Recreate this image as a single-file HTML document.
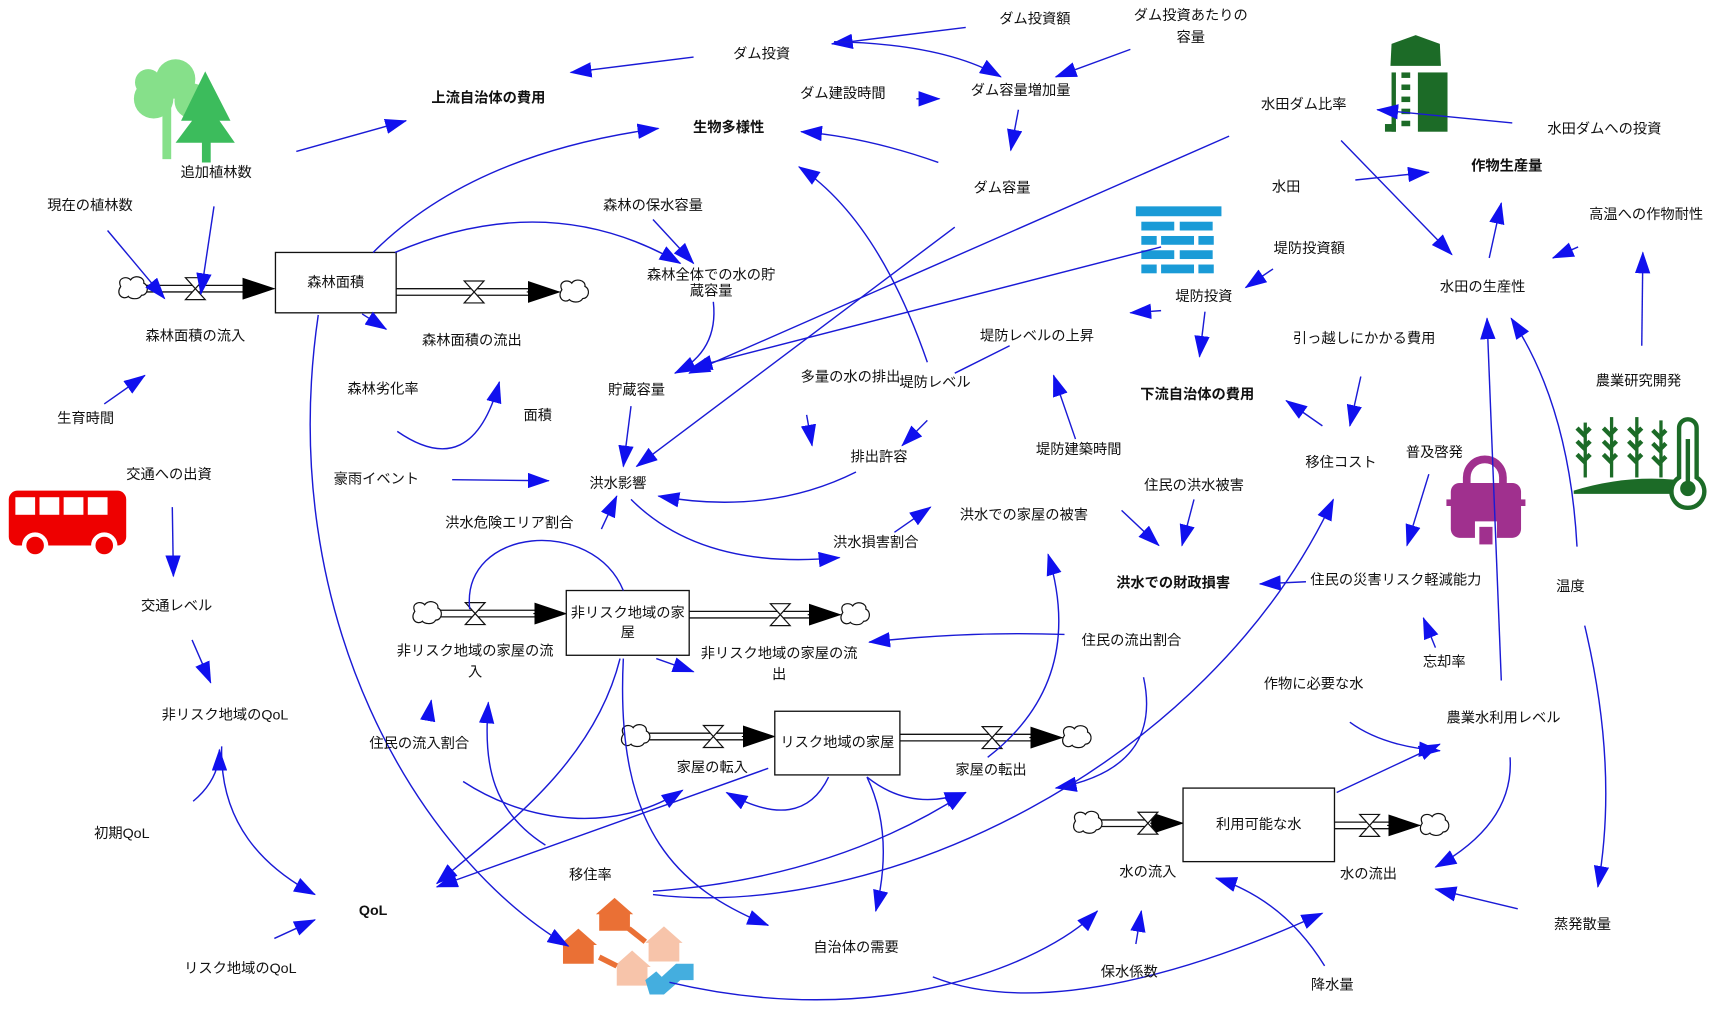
<!DOCTYPE html>
<html><head><meta charset="utf-8">
<style>
html,body{margin:0;padding:0;background:#fff;}
svg{display:block;}
text{font-family:"Liberation Sans","Noto Sans CJK JP",sans-serif;font-size:13px;fill:#111;text-anchor:middle;dominant-baseline:middle;}
.b{font-weight:bold;}
.l{fill:none;stroke:#1a1ad6;stroke-width:1.3;marker-end:url(#ah);}
.n{fill:none;stroke:#1a1ad6;stroke-width:1.3;}
.box{fill:#fff;stroke:#111;stroke-width:1.2;}
.pipe{fill:none;stroke:#111;stroke-width:1.2;}
</style></head><body>
<svg width="1712" height="1012" viewBox="0 0 1560 922" preserveAspectRatio="none">
<defs>
<marker id="ah" viewBox="0 0 20 14" refX="19" refY="7" markerWidth="20" markerHeight="14" markerUnits="userSpaceOnUse" orient="auto"><path d="M0,0 L20,7 L0,14 Z" fill="#1010ee"/></marker>
<marker id="fh" viewBox="0 0 30 20" refX="29" refY="10" markerWidth="30" markerHeight="20" markerUnits="userSpaceOnUse" orient="auto"><path d="M0,0 L30,10 L0,20 Z" fill="#000"/></marker>
<g id="cloud"><path d="M-10,-2 C-14,-10 -4,-12 -1,-8 C2,-13 12,-11 11,-5 C16,-3 15,6 9,6 C6,11 -2,9 -3,7 C-8,11 -15,5 -10,-2 Z" fill="#fff" stroke="#111" stroke-width="1.1"/></g>
<g id="valve"><path d="M-9,-10 L9,-10 L-9,10 L9,10 Z" fill="#fff" stroke="#111" stroke-width="1.1"/></g>
</defs>

<!-- flows -->
<g>
<path class="pipe" d="M130,260 H228 M130,266 H228"/>
<line x1="226" y1="263" x2="250" y2="263" stroke="#000" marker-end="url(#fh)"/>
<use href="#cloud" x="120" y="263"/><use href="#valve" x="178" y="263"/>
<path class="pipe" d="M361,263 H482 M361,269 H482"/><line x1="480" y1="266" x2="510" y2="266" stroke="#000" marker-end="url(#fh)"/>
<use href="#valve" x="432" y="266"/><use href="#cloud" x="522" y="266"/>

<path class="pipe" d="M398,556 H488 M398,562 H488"/><line x1="486" y1="559" x2="516" y2="559" stroke="#000" marker-end="url(#fh)"/>
<use href="#cloud" x="388" y="559"/><use href="#valve" x="433" y="559"/>
<path class="pipe" d="M628,557 H738 M628,563 H738"/><line x1="736" y1="560" x2="766" y2="560" stroke="#000" marker-end="url(#fh)"/>
<use href="#valve" x="711" y="560"/><use href="#cloud" x="778" y="560"/>

<path class="pipe" d="M588,668 H678 M588,674 H678"/><line x1="676" y1="671" x2="706" y2="671" stroke="#000" marker-end="url(#fh)"/>
<use href="#cloud" x="578" y="671"/><use href="#valve" x="650" y="671"/>
<path class="pipe" d="M820,669 H940 M820,675 H940"/><line x1="938" y1="672" x2="968" y2="672" stroke="#000" marker-end="url(#fh)"/>
<use href="#valve" x="904" y="672"/><use href="#cloud" x="980" y="672"/>

<path class="pipe" d="M1000,747 H1050 M1000,753 H1050"/><line x1="1048" y1="750" x2="1078" y2="750" stroke="#000" marker-end="url(#fh)"/>
<use href="#cloud" x="990" y="750"/><use href="#valve" x="1046" y="750"/>
<path class="pipe" d="M1216,749 H1266 M1216,755 H1266"/><line x1="1264" y1="752" x2="1294" y2="752" stroke="#000" marker-end="url(#fh)"/>
<use href="#valve" x="1248" y="752"/><use href="#cloud" x="1306" y="752"/>
</g>

<!-- stocks -->
<rect class="box" x="251" y="230" width="110" height="55"/>
<rect class="box" x="516" y="538" width="112" height="59"/>
<rect class="box" x="706" y="648" width="114" height="58"/>
<rect class="box" x="1078" y="718" width="138" height="67"/>

<!-- icons -->
<g fill="#86e08a">
<circle cx="140" cy="90" r="18"/><circle cx="160" cy="72" r="18"/><circle cx="175" cy="92" r="16"/><circle cx="135" cy="75" r="12"/>
<rect x="148" y="95" width="8" height="50"/>
</g>
<path d="M187,65 L165,110 L175,110 L160,130 L184,130 L184,148 L192,148 L192,130 L214,130 L200,110 L210,110 Z" fill="#3cbc5c"/>
<g fill="#1c6b27">
<path d="M1267,60 L1268,40 L1290,32 L1312,40 L1313,60 Z"/>
<rect x="1292" y="66" width="27" height="54"/><rect x="1268" y="66" width="4" height="54"/>
<rect x="1262" y="113" width="10" height="7"/>
<rect x="1277" y="66" width="8" height="5"/><rect x="1277" y="77" width="8" height="5"/><rect x="1277" y="88" width="8" height="5"/><rect x="1277" y="99" width="8" height="5"/><rect x="1277" y="110" width="8" height="5"/>
</g>
<g fill="#1a9bd7">
<rect x="1035" y="188" width="78" height="9"/>
<rect x="1040" y="202" width="30" height="8"/><rect x="1075" y="202" width="30" height="8"/>
<rect x="1040" y="215" width="14" height="8"/><rect x="1058" y="215" width="30" height="8"/><rect x="1092" y="215" width="14" height="8"/>
<rect x="1040" y="228" width="30" height="8"/><rect x="1075" y="228" width="30" height="8"/>
<rect x="1040" y="241" width="14" height="8"/><rect x="1058" y="241" width="30" height="8"/><rect x="1092" y="241" width="14" height="8"/>
</g>
<g>
<rect x="8" y="447" width="107" height="50" rx="8" fill="#ee0000"/>
<rect x="14" y="453" width="18" height="16" fill="#fff"/><rect x="36" y="453" width="18" height="16" fill="#fff"/><rect x="58" y="453" width="18" height="16" fill="#fff"/><rect x="80" y="453" width="18" height="16" fill="#fff"/>
<circle cx="32" cy="497" r="10" fill="#ee0000" stroke="#fff" stroke-width="4"/><circle cx="95" cy="497" r="10" fill="#ee0000" stroke="#fff" stroke-width="4"/>
</g>
<g fill="#a0308e">
<path d="M1333,435 a20,20 0 0 1 40,0 v6 h-7 v-6 a13,13 0 0 0 -26,0 v6 h-7z"/>
<rect x="1322" y="440" width="64" height="50" rx="8"/><rect x="1318" y="455" width="72" height="6"/>
<rect x="1344" y="475" width="20" height="20" fill="#fff"/><rect x="1348" y="480" width="12" height="16" fill="#a0308e"/>
</g>
<g fill="#1c6b27">
<path d="M1434,447 Q1480,433 1525,437 L1525,450 L1434,450 Z"/>
<rect x="1443" y="385" width="3" height="50"/><rect x="1467" y="380" width="3" height="55"/><rect x="1490" y="380" width="3" height="55"/><rect x="1512" y="383" width="3" height="52"/>
<path d="M1437,390 l6,6 l6,-6 M1437,402 l6,6 l6,-6 M1437,414 l6,6 l6,-6 M1461,390 l6,6 l6,-6 M1461,402 l6,6 l6,-6 M1461,414 l6,6 l6,-6 M1484,390 l6,6 l6,-6 M1484,402 l6,6 l6,-6 M1484,414 l6,6 l6,-6 M1506,392 l6,6 l6,-6 M1506,404 l6,6 l6,-6 M1506,416 l6,6 l6,-6" stroke="#1c6b27" stroke-width="4" fill="none"/>
<path d="M1530,390 a8,8 0 0 1 16,0 v45 a15,15 0 1 1 -16,0 z" fill="none" stroke="#1c6b27" stroke-width="4"/>
<circle cx="1538" cy="445" r="7"/><rect x="1536" y="400" width="4" height="40"/>
</g>
<g>
<path d="M560,818 L577,833 L574,833 L574,848 L546,848 L546,833 L543,833 Z" fill="#ea7035"/>
<path d="M527,846 L544,861 L541,861 L541,878 L513,878 L513,861 L510,861 Z" fill="#ea7035"/>
<path d="M605,844 L622,859 L619,859 L619,876 L591,876 L591,859 L588,859 Z" fill="#f7c4aa"/>
<path d="M576,866 L593,881 L590,881 L590,898 L562,898 L562,881 L559,881 Z" fill="#f7c4aa"/>
<path d="M573,846 L588,858" stroke="#ea7035" stroke-width="5"/>
<path d="M546,872 L562,880" stroke="#ea7035" stroke-width="5"/>
<path d="M588,893 L598,885 L603,890 L616,878 L632,878 L632,893 L620,893 L605,906 L592,906 Z" fill="#44aedf"/>
</g>

<!-- connectors -->
<g>
<path class="l" d="M880,25 L758,40"/>
<path class="l" d="M760,38 Q860,40 912,70"/>
<path class="l" d="M1030,45 L962,70"/>
<path class="l" d="M632,52 L520,66"/>
<path class="l" d="M835,90 L856,90"/>
<path class="l" d="M928,100 L921,137"/>
<path class="l" d="M855,148 Q790,125 730,120"/>
<path class="l" d="M270,138 L370,110"/>
<path class="l" d="M340,230 Q430,140 600,117"/>
<path class="l" d="M195,188 L183,268"/>
<path class="l" d="M98,210 L150,272"/>
<path class="l" d="M95,368 L132,342"/>
<path class="l" d="M360,230 Q500,170 620,240"/>
<path class="l" d="M595,200 L632,240"/>
<path class="l" d="M650,275 Q655,320 615,340"/>
<path class="l" d="M330,286 L352,300"/>
<path class="l" d="M362,393 Q430,440 455,348"/>
<path class="l" d="M575,370 L568,425"/>
<path class="l" d="M412,437 L500,438"/>
<path class="l" d="M1120,124 L628,340"/>
<path class="l" d="M1058,225 L630,335"/>
<path class="l" d="M870,207 L580,425"/>
<path class="l" d="M845,330 Q800,200 728,152"/>
<path class="l" d="M735,378 L740,406"/>
<path class="l" d="M845,383 L822,406"/>
<path class="n" d="M920,315 L870,340"/>
<path class="l" d="M980,400 L960,342"/>
<path class="l" d="M1058,283 L1030,285"/>
<path class="l" d="M1160,245 L1135,262"/>
<path class="l" d="M1098,284 L1093,325"/>
<path class="l" d="M780,430 Q700,470 600,452"/>
<path class="l" d="M575,455 Q640,520 765,508"/>
<path class="l" d="M548,482 L562,452"/>
<path class="l" d="M815,485 L848,462"/>
<path class="l" d="M1022,465 L1056,497"/>
<path class="l" d="M1088,455 L1077,497"/>
<path class="l" d="M1190,530 L1148,532"/>
<path class="l" d="M1205,388 L1172,365"/>
<path class="l" d="M1240,343 L1230,388"/>
<path class="l" d="M1222,128 L1323,232"/>
<path class="l" d="M1235,164 L1302,157"/>
<path class="l" d="M1378,112 L1255,100"/>
<path class="l" d="M1357,235 L1368,185"/>
<path class="l" d="M1438,225 L1415,235"/>
<path class="l" d="M1496,315 L1497,230"/>
<path class="l" d="M1368,620 L1355,290"/>
<path class="l" d="M1437,498 Q1430,370 1377,290"/>
<path class="l" d="M1302,432 L1282,497"/>
<path class="l" d="M1308,590 L1297,563"/>
<path class="l" d="M1444,570 Q1475,700 1456,808"/>
<path class="l" d="M1230,658 Q1260,680 1312,684"/>
<path class="l" d="M1218,722 L1312,678"/>
<path class="l" d="M1376,690 Q1380,750 1308,790"/>
<path class="l" d="M1383,828 L1308,810"/>
<path class="l" d="M1207,880 Q1170,820 1108,800"/>
<path class="l" d="M1035,860 L1040,830"/>
<path class="l" d="M970,578 Q880,575 792,585"/>
<path class="l" d="M1042,617 Q1060,700 962,718"/>
<path class="l" d="M900,690 Q990,620 955,505"/>
<path class="n" d="M568,538 C540,470 420,480 428,555"/>
<path class="l" d="M598,600 L632,612"/>
<path class="l" d="M290,287 C250,560 380,780 518,862"/>
<path class="l" d="M565,600 C540,700 450,760 398,805"/>
<path class="l" d="M568,600 C560,760 620,810 700,843"/>
<path class="l" d="M390,655 L393,638"/>
<path class="l" d="M497,770 C450,740 440,700 445,640"/>
<path class="l" d="M422,712 C480,750 560,760 622,720"/>
<path class="l" d="M700,700 L398,808"/>
<path class="l" d="M755,708 Q730,760 662,722"/>
<path class="l" d="M790,708 Q830,740 880,722"/>
<path class="l" d="M790,708 Q815,760 798,830"/>
<path class="l" d="M595,812 Q760,800 880,722"/>
<path class="l" d="M595,815 C800,840 1100,700 1215,455"/>
<path class="l" d="M610,895 C800,940 950,880 1000,830"/>
<path class="l" d="M850,890 C950,930 1100,880 1205,832"/>
<path class="l" d="M157,462 L158,525"/>
<path class="l" d="M175,583 L192,622"/>
<path class="l" d="M202,680 C200,750 240,790 287,815"/>
<path class="l" d="M176,730 Q200,710 200,683"/>
<path class="l" d="M250,855 L287,838"/>
</g>

<!-- labels -->
<g>
<text x="943" y="18">ダム投資額</text>
<text x="1085" y="15">ダム投資あたりの</text><text x="1085" y="35">容量</text>
<text x="694" y="50">ダム投資</text>
<text x="445" y="90" class="b">上流自治体の費用</text>
<text x="768" y="86">ダム建設時間</text>
<text x="930" y="83">ダム容量増加量</text>
<text x="664" y="117" class="b">生物多様性</text>
<text x="1188" y="96">水田ダム比率</text>
<text x="1462" y="118">水田ダムへの投資</text>
<text x="1373" y="152" class="b">作物生産量</text>
<text x="197" y="158">追加植林数</text>
<text x="913" y="172">ダム容量</text>
<text x="1172" y="171">水田</text>
<text x="82" y="188">現在の植林数</text>
<text x="595" y="188">森林の保水容量</text>
<text x="1500" y="196">高温への作物耐性</text>
<text x="1193" y="227">堤防投資額</text>
<text x="648" y="251">森林全体での水の貯</text><text x="648" y="266">蔵容量</text>
<text x="1351" y="262">水田の生産性</text>
<text x="1097" y="271">堤防投資</text>
<text x="306" y="258">森林面積</text>
<text x="178" y="307">森林面積の流入</text>
<text x="945" y="307">堤防レベルの上昇</text>
<text x="1243" y="309">引っ越しにかかる費用</text>
<text x="430" y="311">森林面積の流出</text>
<text x="775" y="344">多量の水の排出</text>
<text x="852" y="349">堤防レベル</text>
<text x="1493" y="348">農業研究開発</text>
<text x="349" y="355">森林劣化率</text>
<text x="580" y="356">貯蔵容量</text>
<text x="1091" y="360" class="b">下流自治体の費用</text>
<text x="490" y="379">面積</text>
<text x="78" y="382">生育時間</text>
<text x="983" y="410">堤防建築時間</text>
<text x="1307" y="413">普及啓発</text>
<text x="801" y="417">排出許容</text>
<text x="1222" y="422">移住コスト</text>
<text x="154" y="433">交通への出資</text>
<text x="343" y="437">豪雨イベント</text>
<text x="563" y="441">洪水影響</text>
<text x="1088" y="443">住民の洪水被害</text>
<text x="933" y="470">洪水での家屋の被害</text>
<text x="464" y="477">洪水危険エリア割合</text>
<text x="798" y="495">洪水損害割合</text>
<text x="1272" y="529">住民の災害リスク軽減能力</text>
<text x="1069" y="532" class="b">洪水での財政損害</text>
<text x="1431" y="535">温度</text>
<text x="161" y="553">交通レベル</text>
<text x="572" y="559">非リスク地域の家</text><text x="572" y="577">屋</text>
<text x="1031" y="584">住民の流出割合</text>
<text x="433" y="594">非リスク地域の家屋の流</text><text x="433" y="613">入</text>
<text x="710" y="596">非リスク地域の家屋の流</text><text x="710" y="615">出</text>
<text x="1316" y="604">忘却率</text>
<text x="1197" y="624">作物に必要な水</text>
<text x="205" y="652">非リスク地域のQoL</text>
<text x="1370" y="655">農業水利用レベル</text>
<text x="763" y="677">リスク地域の家屋</text>
<text x="382" y="678">住民の流入割合</text>
<text x="649" y="700">家屋の転入</text>
<text x="903" y="702">家屋の転出</text>
<text x="1147" y="752">利用可能な水</text>
<text x="111" y="760">初期QoL</text>
<text x="1046" y="795">水の流入</text>
<text x="1247" y="797">水の流出</text>
<text x="538" y="798">移住率</text>
<text x="340" y="830" class="b">QoL</text>
<text x="1442" y="843">蒸発散量</text>
<text x="780" y="864">自治体の需要</text>
<text x="219" y="883">リスク地域のQoL</text>
<text x="1029" y="886">保水係数</text>
<text x="1214" y="898">降水量</text>
</g>
</svg>
</body></html>
